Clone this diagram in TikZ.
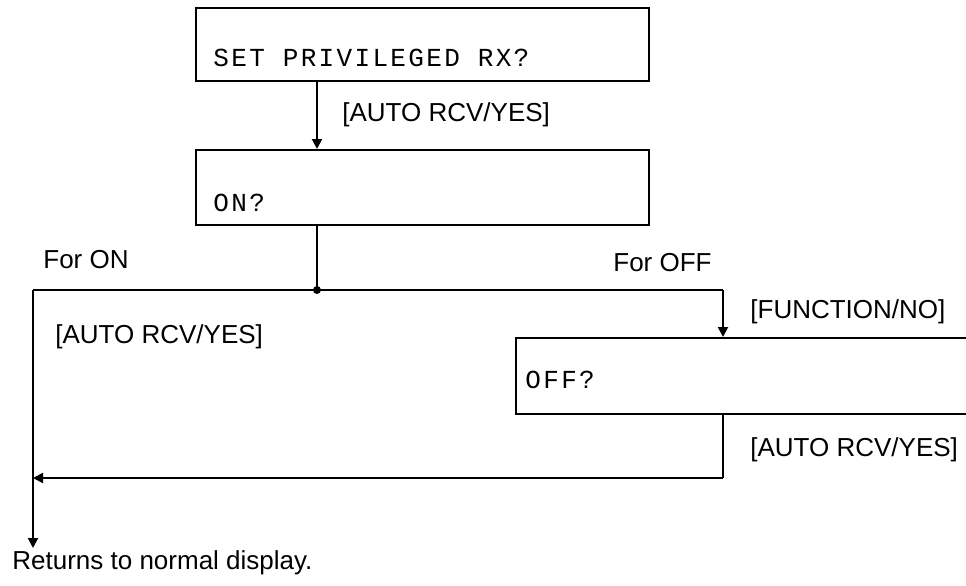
\documentclass[tikz,border=0pt]{standalone}
\usepackage{fontspec}
\setmainfont{Liberation Sans}
\newfontfamily\lcdfont[LetterSpace=9]{Liberation Mono}
\usetikzlibrary{arrows.meta}
\tikzset{
  dispbox/.style={draw, line width=1pt, anchor=north west, inner sep=0pt},
  lcd/.style={anchor=west, inner sep=0pt, font={\lcdfont\fontsize{13}{15}\selectfont}},
  lbl/.style={anchor=west, inner sep=0pt, font={\fontsize{13}{15}\selectfont}},
  flow/.style={line width=1pt, -{Triangle[length=5pt,width=5pt]}},
  wire/.style={line width=1pt}
}
\begin{document}
\begin{tikzpicture}[x=0.5pt,y=-0.5pt]
    \clip (0,0) rectangle (966,585);
    % display boxes
    \node[dispbox, minimum width=226.5pt, minimum height=36.5pt] (setbox) at (195,7) {};
    \node[lcd] (settxt) at (213,58) {SET PRIVILEGED RX?};
    \node[dispbox, minimum width=226.5pt, minimum height=37.5pt] (onbox) at (195,149) {};
    \node[lcd] (ontxt) at (213,203) {ON?};
    \node[dispbox, minimum width=240pt, minimum height=38pt] (offbox) at (515,337) {};
    \node[lcd] (offtxt) at (525,380) {OFF?};

    % keys and notes
    \node[lbl] (key1) at (342,115) {[AUTO RCV/YES]};
    \node[lbl] (key2) at (55,337)  {[AUTO RCV/YES]};
    \node[lbl] (key3) at (750,312) {[FUNCTION/NO]};
    \node[lbl] (key4) at (750,450) {[AUTO RCV/YES]};
    \node[lbl] (foron) at (43,260)  {For ON};
    \node[lbl] (foroff) at (613,263) {For OFF};
    \node[lbl] (ret) at (12,563) {Returns to normal display.};

    % flow lines
    \coordinate (junc) at (317,290);
    \coordinate (lcorner) at (33,290);
    \coordinate (rcorner) at (723,290);
    \coordinate (bcorner) at (723,478);
    \coordinate (lend) at (33,548);
    \draw[flow] (setbox.south -| junc) -- (onbox.north -| junc);
    \draw[wire] (onbox.south -| junc) -- (junc);
    \fill (junc) circle (2pt);
    \draw[wire] (lcorner) -- (rcorner);
    \draw[flow] (rcorner) -- (offbox.north -| rcorner);
    \draw[wire] (offbox.south -| rcorner) -- (bcorner);
    \draw[flow] (bcorner) -- (lcorner |- bcorner);
    \draw[flow] (lcorner) -- (lend);
\end{tikzpicture}
\end{document}
